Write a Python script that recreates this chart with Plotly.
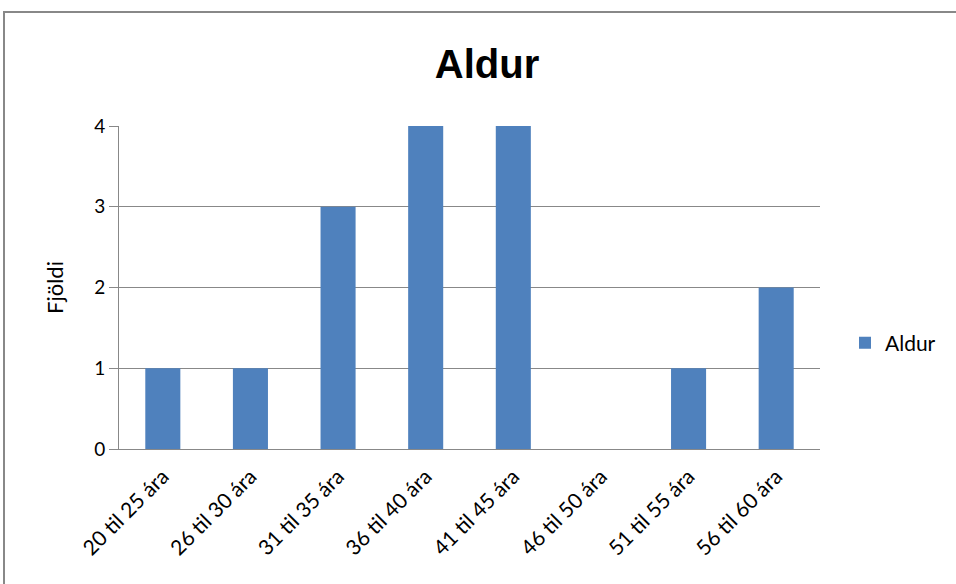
import plotly.graph_objects as go

categories = ["20 til 25 ára", "26 til 30 ára", "31 til 35 ára", "36 til 40 ára",
              "41 til 45 ára", "46 til 50 ára", "51 til 55 ára", "56 til 60 ára"]
counts = [1, 1, 3, 4, 4, 0, 1, 2]
y_ticks = [0, 1, 2, 3, 4]

W, H = 956, 584
L, R, T, B = 119, 136, 126, 135
pw = W - L - R
ph = H - T - B

font_main = "Lato, Calibri, Carlito, 'Open Sans', sans-serif"

fig = go.Figure()
fig.add_trace(go.Bar(
    x=categories, y=counts, name="Aldur",
    marker=dict(color="#4F81BD", line=dict(width=0)),
    showlegend=True,
))


def px_x(p):
    return (p - L) / pw


def px_y(p):
    return (H - B - p) / ph


# outer chart border
fig.add_shape(type="rect", xref="paper", yref="paper",
              x0=px_x(4), x1=px_x(1100), y0=px_y(700), y1=px_y(12),
              line=dict(color="#888888", width=2), fillcolor="rgba(0,0,0,0)",
              layer="above")

fig.update_layout(
    width=W, height=H,
    margin=dict(l=L, r=R, t=T, b=B, autoexpand=False),
    paper_bgcolor="white", plot_bgcolor="white",
    bargap=0.6,
    font=dict(family=font_main, size=18, color="black"),
    title=dict(text="<b>Aldur</b>", x=487 / W, xanchor="center",
               y=1 - 64 / H, yanchor="middle",
               font=dict(family="'Liberation Sans Narrow', 'Liberation Sans', Arial, sans-serif", size=40)),
    legend=dict(x=px_x(845), y=px_y(343), xanchor="left", yanchor="middle",
                font=dict(size=21), itemwidth=30, bgcolor="rgba(0,0,0,0)"),
    xaxis=dict(showgrid=False, showline=True, linecolor="#888888", linewidth=1,
               ticks="", tickangle=-45, tickfont=dict(size=21), zeroline=False,
               ticklabelstandoff=6),
    yaxis=dict(range=[0, 4], tickvals=y_ticks, showgrid=True, gridcolor="#888888",
               gridwidth=1, showline=True, linecolor="#888888", linewidth=1,
               ticks="outside", ticklen=9, tickcolor="#888888", tickfont=dict(size=19),
               zeroline=False,
               title=dict(text="Fjöldi", font=dict(size=22), standoff=24)),
)

fig.write_html("out.html", config={"displayModeBar": False},
               post_script="document.body.style.margin='0';document.body.style.overflow='hidden';")
